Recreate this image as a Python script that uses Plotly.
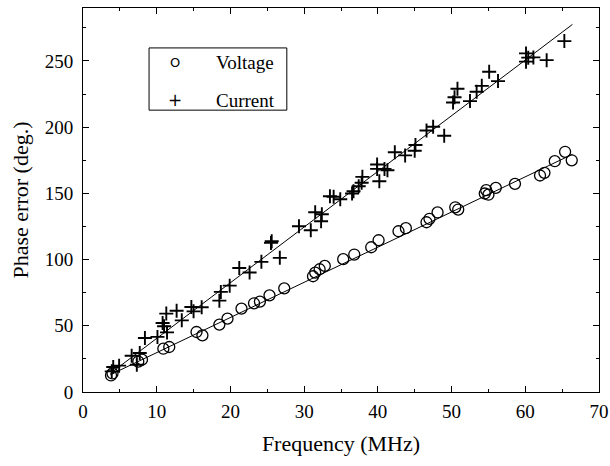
import plotly.graph_objects as go

voltage_freq = [3.8, 4.0, 7.5, 8.0, 10.9, 11.7, 15.4, 16.2, 18.5, 19.6, 21.5, 23.2, 24.0,
                25.3, 27.3, 31.2, 31.5, 32.1, 32.8, 35.3, 36.8, 39.1, 40.1, 42.8, 43.8,
                46.6, 47.0, 48.1, 50.5, 50.9, 54.5, 54.7, 55.0, 56.0, 58.6, 62.0, 62.6,
                64.0, 65.4, 66.3]
voltage_phase = [12.5, 14.0, 23.0, 24.4, 32.7, 34.0, 45.3, 42.8, 50.9, 55.4, 63.0, 67.0, 68.3,
                 73.0, 78.3, 87.4, 90.2, 92.7, 95.2, 100.3, 103.8, 109.3, 114.6, 121.4, 123.7,
                 128.2, 130.8, 135.6, 139.5, 137.8, 149.9, 152.4, 149.0, 154.2, 157.2, 163.5, 165.5,
                 174.3, 181.4, 175.0]

current_freq = [3.9, 4.1, 4.9, 6.6, 7.3, 7.7, 8.4, 10.1, 10.8, 11.0, 11.3, 11.4, 12.7, 13.4,
                14.7, 15.0, 16.1, 18.5, 18.7, 19.9, 21.2, 22.6, 24.2, 25.5, 25.6, 26.7, 29.3,
                30.9, 31.5, 32.3, 32.4, 33.5, 34.0, 34.9, 36.5, 36.7, 37.4, 37.8, 37.9, 39.9,
                39.9, 40.2, 40.9, 41.3, 42.3, 43.7, 45.0, 45.1, 46.6, 47.5, 49.0, 50.2, 50.4,
                50.8, 52.5, 53.4, 54.1, 55.1, 56.3, 60.1, 60.1, 60.4, 61.1, 62.9, 65.3]
current_phase = [15.6, 18.9, 19.9, 27.4, 20.6, 29.5, 40.8, 41.6, 52.1, 49.6, 59.2, 45.0, 61.4, 54.1,
                 64.2, 60.9, 64.0, 69.0, 75.6, 80.3, 93.7, 90.2, 98.3, 112.6, 113.8, 101.3, 125.2,
                 122.1, 135.8, 129.0, 134.2, 147.8, 147.5, 145.6, 149.9, 151.6, 155.4, 158.0, 162.5, 171.8,
                 168.5, 159.2, 168.5, 167.5, 181.1, 178.7, 182.2, 186.5, 197.5, 200.3, 193.5, 218.6, 222.6,
                 229.0, 219.7, 226.8, 231.2, 241.9, 234.8, 255.7, 249.5, 252.5, 252.7, 250.6, 265.0]

fit_freq = [3.7, 66.4]
voltage_fit = [13.0, 179.5]
current_fit = [14.0, 277.6]

x_ticks = [0, 10, 20, 30, 40, 50, 60, 70]
y_ticks = [0, 50, 100, 150, 200, 250]

series_names = ["Voltage", "Current"]
legend_glyphs = ["O", "+"]

FONT = "Liberation Serif, Times New Roman, serif"

fig = go.Figure()
fig.add_trace(go.Scatter(x=fit_freq, y=current_fit, mode="lines",
                         line=dict(color="black", width=1), showlegend=False, hoverinfo="skip"))
fig.add_trace(go.Scatter(x=fit_freq, y=voltage_fit, mode="lines",
                         line=dict(color="black", width=1), showlegend=False, hoverinfo="skip"))
fig.add_trace(go.Scatter(x=voltage_freq, y=voltage_phase, mode="markers", name=series_names[0],
                         showlegend=False,
                         marker=dict(symbol="circle-open", size=11, color="black",
                                     line=dict(width=1.3, color="black"))))
fig.add_trace(go.Scatter(x=current_freq, y=current_phase, mode="markers", name=series_names[1],
                         showlegend=False,
                         marker=dict(symbol="cross-thin-open", size=10, color="black",
                                     line=dict(width=1.9, color="black"))))

axis_common = dict(showline=True, linecolor="black", linewidth=1, mirror="allticks",
                   ticks="inside", ticklen=6, tickwidth=1, tickcolor="black",
                   showgrid=False, zeroline=False,
                   tickfont=dict(family=FONT, size=19, color="black"))

fig.update_xaxes(range=[0, 70], tickvals=x_ticks,
                 minor=dict(dtick=5, tick0=0, ticks="inside", ticklen=3, tickcolor="black", showgrid=False),
                 title=dict(text="Frequency (MHz)", font=dict(family=FONT, size=22, color="black"),
                            standoff=14),
                 ticklabelstandoff=2,
                 **axis_common)
fig.update_yaxes(range=[0, 290], tickvals=y_ticks,
                 minor=dict(dtick=25, tick0=0, ticks="inside", ticklen=3, tickcolor="black", showgrid=False),
                 title=dict(text="Phase error (deg.)", font=dict(family=FONT, size=22, color="black"),
                            standoff=10),
                 ticklabelstandoff=5,
                 **axis_common)

# manual legend box (paper coordinates)
fig.add_shape(type="rect", xref="paper", yref="paper", x0=0.128, x1=0.395, y0=0.734, y1=0.896,
              line=dict(color="black", width=1), fillcolor="white", layer="above")
legend_rows_y = [0.857, 0.760]
for glyph, name, yy in zip(legend_glyphs, series_names, legend_rows_y):
    fig.add_annotation(xref="paper", yref="paper", x=0.178, y=yy, text=glyph, showarrow=False,
                       xanchor="center", yanchor="middle",
                       font=dict(family="DejaVu Sans, sans-serif", size=13 if glyph == "O" else 17,
                                 color="black"))
    fig.add_annotation(xref="paper", yref="paper", x=0.253, y=yy, text=name, showarrow=False,
                       xanchor="left", yanchor="middle",
                       font=dict(family=FONT, size=19, color="black"))

fig.update_layout(
    width=610, height=466,
    margin=dict(l=83, r=11, t=8, b=74, autoexpand=False),
    paper_bgcolor="white", plot_bgcolor="white",
    font=dict(family=FONT, color="black"),
    showlegend=False,
)

fig.write_html("out.html")
